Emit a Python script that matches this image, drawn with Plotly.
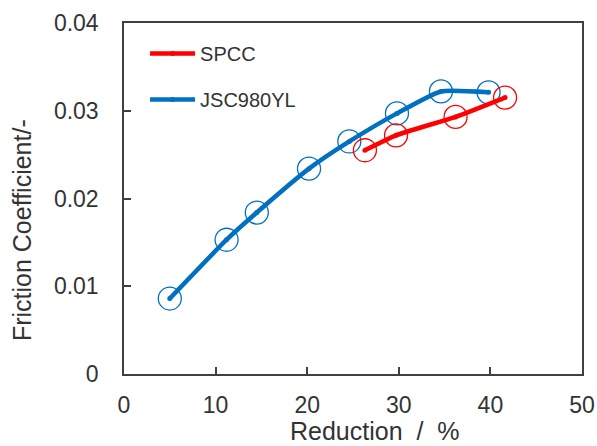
import plotly.graph_objects as go

# Friction coefficient versus reduction for two steel grades
spcc_reduction = [26.3, 29.7, 36.2, 41.6]
spcc_friction = [0.0255, 0.0272, 0.0293, 0.0315]

jsc_reduction = [5.0, 11.2, 14.5, 20.2, 24.6, 29.8, 34.6, 39.8]
jsc_friction = [0.0086, 0.0153, 0.0184, 0.0234, 0.0265, 0.0297, 0.0322, 0.0321]

x_title = "Reduction  /  %"
y_title = "Friction Coefficient/-"

RED = "#FF0000"
BLUE = "#0070C0"
AXIS = "#404040"
TEXT = "#333333"
FONT = "Liberation Sans, Arial, sans-serif"

fig = go.Figure()

# Open circles at each measured point
for xs, ys, col in [(jsc_reduction, jsc_friction, BLUE), (spcc_reduction, spcc_friction, RED)]:
    fig.add_trace(go.Scatter(
        x=xs, y=ys, mode="markers", showlegend=False, hoverinfo="skip",
        marker=dict(symbol="circle-open", size=23, color=col, line=dict(width=1.3, color=col)),
    ))

# Smoothed trend lines with small point markers
fig.add_trace(go.Scatter(
    x=spcc_reduction, y=spcc_friction, name="SPCC", mode="lines+markers",
    line=dict(color=RED, width=4.5, shape="spline", smoothing=0.5),
    marker=dict(size=5, color=RED), legendgroup="a",
))
fig.add_trace(go.Scatter(
    x=jsc_reduction, y=jsc_friction, name="JSC980YL", mode="lines+markers",
    line=dict(color=BLUE, width=4.5, shape="spline", smoothing=0.5),
    marker=dict(size=5, color=BLUE), legendgroup="b",
))

axis_common = dict(
    ticks="inside", ticklen=7, tickwidth=1.5, tickcolor=AXIS,
    showline=True, linecolor=AXIS, linewidth=1.5, mirror=True,
    showgrid=False, zeroline=False, automargin=False,
    tickfont=dict(size=23, color=TEXT),
)

fig.update_layout(
    width=597, height=446,
    margin=dict(l=124, r=15, t=23, b=72),
    paper_bgcolor="white", plot_bgcolor="white",
    font=dict(family=FONT, color=TEXT, size=22),
    legend=dict(
        x=0.046, y=0.969, xanchor="left", yanchor="top",
        bgcolor="rgba(0,0,0,0)", font=dict(size=20, color=TEXT),
        tracegroupgap=17, itemwidth=45,
    ),
    xaxis=dict(range=[0, 50], tickvals=[0, 10, 20, 30, 40, 50],
               ticklabelstandoff=10, **axis_common),
    yaxis=dict(range=[0, 0.04], tickvals=[0, 0.01, 0.02, 0.03, 0.04],
               ticktext=["0", "0.01", "0.02", "0.03", "0.04"],
               ticklabelstandoff=19, **axis_common),
    annotations=[
        dict(text=x_title, xref="paper", yref="paper", x=0.547, y=-0.162,
             xanchor="center", yanchor="middle", showarrow=False,
             font=dict(size=25, color=TEXT)),
        dict(text=y_title, xref="paper", yref="paper", x=-0.2227, y=0.41,
             xanchor="center", yanchor="middle", showarrow=False, textangle=-90,
             font=dict(size=25, color=TEXT)),
    ],
)

fig.write_html("out.html")
